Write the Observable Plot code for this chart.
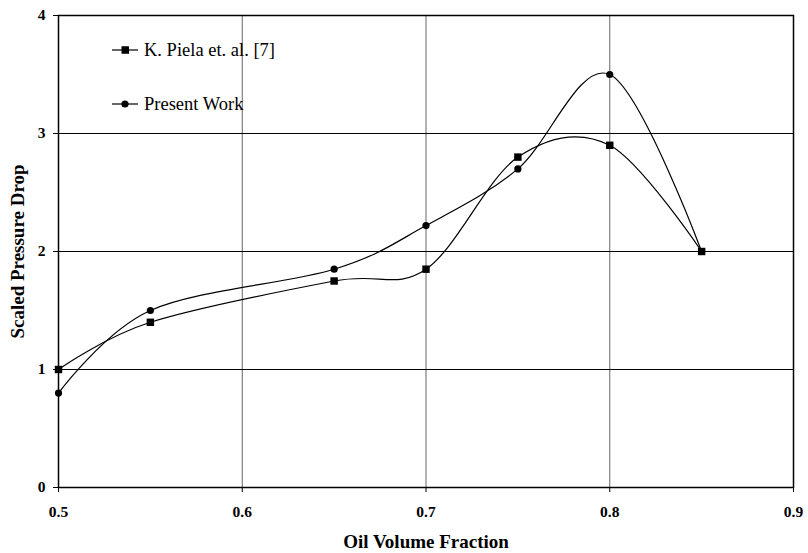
<!DOCTYPE html>
<html>
<head>
<meta charset="utf-8">
<script src="https://cdn.jsdelivr.net/npm/d3@7"></script>
<script src="https://cdn.jsdelivr.net/npm/@observablehq/plot@0.6"></script>
<style>
  html, body { margin: 0; padding: 0; background: #fff; }
  #wrap { position: relative; width: 808px; height: 553px; }
  #legend { position: absolute; left: 112px; top: 0; font-family: "Liberation Serif", "Times New Roman", serif; font-size: 18.5px; color: #000; }
  .row { position: absolute; left: 0; display: flex; align-items: center; white-space: nowrap; height: 20px; }
  .row svg { margin-right: 5px; }
</style>
</head>
<body>
<div id="wrap"><div id="legend"></div></div>
<script>
const xValues = [0.5, 0.55, 0.65, 0.7, 0.75, 0.8, 0.85];
const pielaValues = [1.0, 1.4, 1.75, 1.85, 2.8, 2.9, 2.0];
const presentValues = [0.8, 1.5, 1.85, 2.22, 2.7, 3.5, 2.0];
const seriesNames = ["K. Piela et. al. [7]", "Present Work"];
const seriesSymbols = ["square", "circle"];
const xTicks = [0.5, 0.6, 0.7, 0.8, 0.9];
const yTicks = [0, 1, 2, 3, 4];
const xGrid = [0.6, 0.7, 0.8];
const yGrid = [1, 2, 3];

const data = [];
xValues.forEach((x, i) => data.push({x, y: pielaValues[i], s: seriesNames[0]}));
xValues.forEach((x, i) => data.push({x, y: presentValues[i], s: seriesNames[1]}));

const chart = Plot.plot({
  width: 808,
  height: 553,
  marginLeft: 58,
  marginRight: 15,
  marginTop: 15,
  marginBottom: 66,
  style: {fontFamily: "'Liberation Serif', 'Times New Roman', serif", fontSize: "19px", fontWeight: "bold", color: "#000", background: "#fff"},
  x: {domain: [0.5, 0.9]},
  y: {domain: [0, 4]},
  symbol: {domain: seriesNames, range: seriesSymbols},
  marks: [
    Plot.ruleX(xGrid, {stroke: "#666", strokeWidth: 1}),
    Plot.ruleY(yGrid, {stroke: "#000", strokeWidth: 1}),
    Plot.frame({stroke: "#000", strokeWidth: 1.5}),
    Plot.axisX({ticks: xTicks, tickFormat: d3.format(".1f"), tickSize: 5, tickPadding: 13, stroke: "#000", fontSize: 15.5, label: null}),
    Plot.axisX({ticks: [], label: "Oil Volume Fraction", labelAnchor: "center", labelOffset: 60, labelArrow: "none", tickSize: 0, fontSize: 19}),
    Plot.axisY({ticks: yTicks, tickFormat: d3.format("d"), tickSize: 5, tickPadding: 8, stroke: "#000", fontSize: 15.5, label: null}),
    Plot.axisY({ticks: [], label: "Scaled Pressure Drop", labelAnchor: "center", labelOffset: 48, labelArrow: "none", tickSize: 0, fontSize: 19}),
    Plot.line(data, {x: "x", y: "y", z: "s", curve: "cardinal", stroke: "#000", strokeWidth: 1.2}),
    Plot.dot(data.filter(d => d.s === seriesNames[0]), {x: "x", y: "y", symbol: "s", r: 4.2, fill: "#000", stroke: "none"}),
    Plot.dot(data.filter(d => d.s === seriesNames[1]), {x: "x", y: "y", symbol: "s", r: 3.6, fill: "#000", stroke: "none"})
  ]
});
document.getElementById("wrap").prepend(chart);

const legend = document.getElementById("legend");
const rowTops = [40, 94];
seriesNames.forEach((name, i) => {
  const row = document.createElement("div");
  row.className = "row";
  row.style.top = rowTops[i] + "px";
  const marker = seriesSymbols[i] === "square"
    ? '<rect x="9.5" y="6.25" width="7.5" height="7.5" fill="#000"/>'
    : '<circle cx="13" cy="10" r="3.6" fill="#000"/>';
  row.innerHTML = '<svg width="27" height="20"><line x1="0" y1="10" x2="26" y2="10" stroke="#000" stroke-width="1.2"/>' + marker + '</svg><span>' + name + '</span>';
  legend.appendChild(row);
});
</script>
</body>
</html>
